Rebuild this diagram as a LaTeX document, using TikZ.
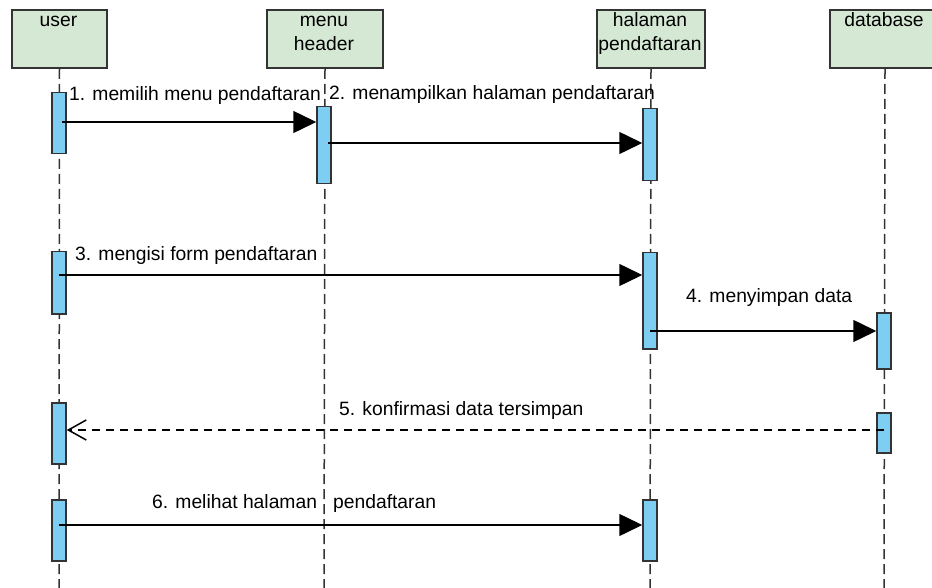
\documentclass[tikz,border=0pt]{standalone}
\usepackage{fontspec}
\setmainfont{Liberation Sans}
\usetikzlibrary{arrows.meta}
\definecolor{boxfill}{HTML}{D5E8D4}
\definecolor{actfill}{HTML}{7ECEF4}
\definecolor{linec}{HTML}{333333}
\begin{document}
\begin{tikzpicture}[x=1pt,y=-1pt,
  participant/.style={draw=linec, line width=2pt, fill=boxfill, inner sep=0pt, anchor=north west, minimum height=58pt},
  ptext/.style={anchor=base, inner sep=0pt, font=\fontsize{19.3}{24}\selectfont},
  lifeline/.style={draw=linec, line width=1.5pt, dash pattern=on 10pt off 5pt},
  activation/.style={draw=linec, line width=1.5pt, fill=actfill, inner sep=0pt, anchor=north, minimum width=14pt},
  msg/.style={draw=black, line width=1.5pt, -{Triangle[length=23pt,width=22pt]}},
  ret/.style={draw=black, line width=1.5pt, dash pattern=on 8pt off 6pt, -{Straight Barb[length=18pt,width=20pt,line width=1.5pt]}},
  lbl/.style={anchor=base west, inner sep=0pt, font=\fontsize{19.3}{24}\selectfont}]
\useasboundingbox (0,0) rectangle (932,588);
\clip (0,0) rectangle (932,588);
\fill[white] (0,0) rectangle (932,588);

% participants
\node[participant, minimum width=95pt] (user) at (11,9) {};
\node[participant, minimum width=116pt] (menu) at (266,9) {};
\node[participant, minimum width=108pt] (hal) at (596,9) {};
\node[participant, minimum width=110pt] (db) at (829,9) {};

\node[ptext] (userT) at (58.5,27) {user};
\node[ptext] (menuT1) at (324,27) {menu};
\node[ptext] (menuT2) at (324,51) {header};
\node[ptext] (halT1) at (650,27) {halaman};
\node[ptext] (halT2) at (650,51) {pendaftaran};
\node[ptext] (dbT) at (884,27) {database};

% lifeline ends
\coordinate (userEnd) at (59,592);
\coordinate (menuEnd) at (324,592);
\coordinate (halEnd) at (650,592);
\coordinate (dbEnd) at (884,592);
\draw[lifeline] (user.south) -- (userEnd);
\draw[lifeline] (menu.south) -- (menuEnd);
\draw[lifeline] (hal.south) -- (halEnd);
\draw[lifeline] (db.south) -- (dbEnd);

% activations
\node[activation, minimum height=61pt] (u1) at (59,92) {};
\node[activation, minimum height=77pt] (m1) at (324,106) {};
\node[activation, minimum height=72pt] (h1) at (650,108) {};
\node[activation, minimum height=62pt] (u2) at (59,251) {};
\node[activation, minimum height=96pt] (h2) at (650,252) {};
\node[activation, minimum height=56pt] (d1) at (884,312) {};
\node[activation, minimum height=40pt] (d2) at (884,412) {};
\node[activation, minimum height=61pt] (u3) at (59,402) {};
\node[activation, minimum height=61pt] (u4) at (59,499) {};
\node[activation, minimum height=61pt] (h3) at (650,499) {};

% message start points
\coordinate (s1) at (62,122);
\coordinate (s2) at (328,143);
\coordinate (s3) at (59,275);
\coordinate (s4) at (650,331);
\coordinate (s5) at (884,430);
\coordinate (s6) at (59,525);

\draw[msg] (s1) -- (s1 -| m1.west);
\draw[msg] (s2) -- (s2 -| h1.west);
\draw[msg] (s3) -- (s3 -| h2.west);
\draw[msg] (s4) -- (s4 -| d1.west);
\draw[ret] (s5) -- (s5 -| u3.east);
\draw[msg] (s6) -- (s6 -| h3.west);

% labels
\node[lbl] (l1) at (69,101) {1. memilih menu pendaftaran};
\node[lbl] (l2) at (329,99.5) {2. menampilkan halaman pendaftaran};
\node[lbl] (l3) at (75,261) {3. mengisi form pendaftaran};
\node[lbl] (l4) at (686,302) {4. menyimpan data};
\node[lbl] (l5) at (339,415.5) {5. konfirmasi data tersimpan};
\node[lbl] (l6) at (152,508) {6. melihat halaman\ \ \ pendaftaran};
\end{tikzpicture}
\end{document}
